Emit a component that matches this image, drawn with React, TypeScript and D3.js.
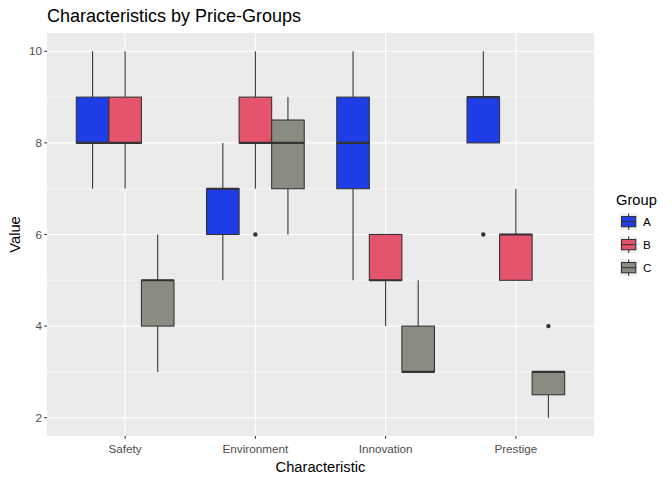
import React from "react";
import * as d3 from "d3";

const categories = ["Safety", "Environment", "Innovation", "Prestige"];
const groups = ["A", "B", "C"];
const groupColors = ["#1f3de6", "#e5536d", "#8c8b82"];
const yTicks = [2, 4, 6, 8, 10];
const yMinor = [3, 5, 7, 9];

// [lowerWhisker, q1, median, q3, upperWhisker] per category per group
const statsA = [
  [7, 8, 8, 9, 10],
  [5, 6, 7, 7, 8],
  [5, 7, 8, 9, 10],
  [8, 8, 9, 9, 10],
];
const statsB = [
  [7, 8, 8, 9, 10],
  [7, 8, 8, 9, 10],
  [4, 5, 5, 6, 6],
  [5, 5, 6, 6, 7],
];
const statsC = [
  [3, 4, 5, 5, 6],
  [6, 7, 8, 8.5, 9],
  [3, 3, 3, 4, 5],
  [2, 2.5, 3, 3, 3],
];
const outliersA = [[], [], [], [6]];
const outliersB = [[], [6], [], []];
const outliersC = [[], [], [], [4]];

const allStats = [statsA, statsB, statsC];
const allOutliers = [outliersA, outliersB, outliersC];

export default function App() {
  const W = 672, H = 480;
  const left = 47, right = 594, top = 33, bottom = 436;
  const y = d3.scaleLinear().domain([1.6, 10.4]).range([bottom, top]);
  const x = d3.scaleLinear().domain([0.4, 4.6]).range([left, right]);
  const unit = x(2) - x(1);
  const boxW = unit * 0.25;
  const lineCol = "#333333";

  const boxes: JSX.Element[] = [];
  allStats.forEach((stats, gi) => {
    stats.forEach((s, ci) => {
      const cx = x(ci + 1) + (gi - 1) * boxW;
      const [lo, q1, med, q3, hi] = s;
      boxes.push(
        <g key={`b${gi}-${ci}`}>
          <line x1={cx} x2={cx} y1={y(hi)} y2={y(q3)} stroke={lineCol} strokeWidth={1.07} />
          <line x1={cx} x2={cx} y1={y(q1)} y2={y(lo)} stroke={lineCol} strokeWidth={1.07} />
          <rect x={cx - boxW / 2} y={y(q3)} width={boxW} height={y(q1) - y(q3)}
            fill={groupColors[gi]} stroke={lineCol} strokeWidth={1.07} />
          <line x1={cx - boxW / 2} x2={cx + boxW / 2} y1={y(med)} y2={y(med)} stroke={lineCol} strokeWidth={2.13} />
          {allOutliers[gi][ci].map((o, k) => (
            <circle key={k} cx={cx} cy={y(o)} r={2.2} fill={lineCol} />
          ))}
        </g>
      );
    });
  });

  const font = "Liberation Sans, Arial, sans-serif";

  return (
    <svg width={W} height={H} style={{ position: "absolute", left: 0, top: 0 }} fontFamily={font}>
      <rect width={W} height={H} fill="white" />
      <rect x={left} y={top} width={right - left} height={bottom - top} fill="#ebebeb" />
      {yMinor.map((v) => (
        <line key={`ym${v}`} x1={left} x2={right} y1={y(v)} y2={y(v)} stroke="white" strokeWidth={0.53} />
      ))}
      {yTicks.map((v) => (
        <line key={`yg${v}`} x1={left} x2={right} y1={y(v)} y2={y(v)} stroke="white" strokeWidth={1.07} />
      ))}
      {categories.map((c, i) => (
        <line key={`xg${c}`} x1={x(i + 1)} x2={x(i + 1)} y1={top} y2={bottom} stroke="white" strokeWidth={1.07} />
      ))}
      {boxes}
      {/* y axis */}
      {yTicks.map((v) => (
        <g key={`yt${v}`}>
          <line x1={left - 2.74} x2={left} y1={y(v)} y2={y(v)} stroke={lineCol} strokeWidth={1.07} />
          <text x={left - 5} y={y(v)} dy="0.35em" textAnchor="end" fontSize={11.7} fill="#4d4d4d">{v}</text>
        </g>
      ))}
      {categories.map((c, i) => (
        <g key={`xt${c}`}>
          <line x1={x(i + 1)} x2={x(i + 1)} y1={bottom} y2={bottom + 2.74} stroke={lineCol} strokeWidth={1.07} />
          <text x={x(i + 1)} y={bottom + 17} textAnchor="middle" fontSize={11.7} fill="#4d4d4d">{c}</text>
        </g>
      ))}
      <text x={(left + right) / 2} y={472} textAnchor="middle" fontSize={14.7} fill="black">Characteristic</text>
      <text transform={`translate(20, ${(top + bottom) / 2}) rotate(-90)`} textAnchor="middle" fontSize={14.7} fill="black">Value</text>
      <text x={left} y={22} fontSize={18} fill="black">Characteristics by Price-Groups</text>
      {/* legend */}
      <text x={616} y={205} fontSize={14.7} fill="black">Group</text>
      {groups.map((g, i) => {
        const ky = 213 + i * 23;
        const kx = 620;
        const ks = 17.28;
        const cx = kx + ks / 2;
        return (
          <g key={`lg${g}`}>
            <rect x={kx} y={ky} width={ks} height={ks} fill="#f2f2f2" />
            <line x1={cx} x2={cx} y1={ky + 0.5} y2={ky + ks - 0.5} stroke={lineCol} strokeWidth={1.07} />
            <rect x={kx + 1.5} y={ky + 3.5} width={ks - 3} height={ks - 7} fill={groupColors[i]} stroke={lineCol} strokeWidth={1.07} />
            <line x1={kx + 1.5} x2={kx + ks - 1.5} y1={ky + ks / 2} y2={ky + ks / 2} stroke={lineCol} strokeWidth={1.07} />
            <text x={643} y={ky + ks / 2} dy="0.35em" fontSize={11.7} fill="black">{g}</text>
          </g>
        );
      })}
    </svg>
  );
}
